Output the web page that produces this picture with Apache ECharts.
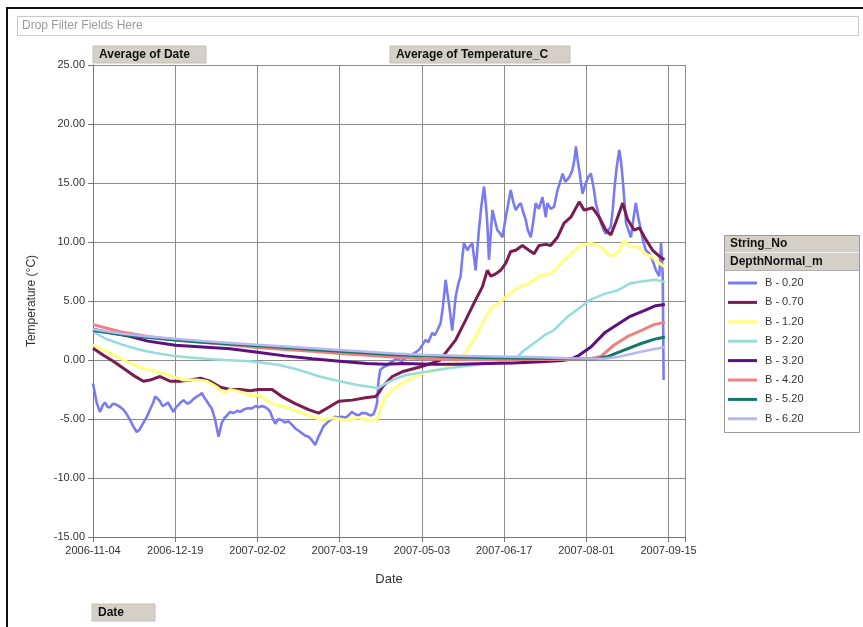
<!DOCTYPE html>
<html>
<head>
<meta charset="utf-8">
<script src="https://cdn.jsdelivr.net/npm/echarts@6/dist/echarts.min.js"></script>
<style>
html,body{margin:0;padding:0;background:#fff;}
#c{width:863px;height:627px;}
</style>
</head>
<body>
<div id="c"></div>
<script>
// ---- DATA (x = days since 2006-11-04) ----
const startDate = Date.UTC(2006, 10, 4);
const seriesNames = ['B - 0.20','B - 0.70','B - 1.20','B - 2.20','B - 3.20','B - 4.20','B - 5.20','B - 6.20'];
const yTicks = [-15, 25, 5];

const b020Days = [0,0.5,2,3.8,5.5,6.6,8,9.3,11,13,15,16.6,18.5,20.3,22,23.9,25.5,27.6,29.5,31.2,33,34,35.5,36.7,38,39.5,41,42.5,44,45.5,46.8,48,49.5,51.5,53.2,55,56.8,58,59.6,61,62.3,64,65,66.9,68.7,70.5,72,73.3,75,76.9,79,80.6,82.5,84.3,87,89,90.7,92.5,94.4,96,97,98.5,99.8,101.5,103.4,105,107,109,110.7,112.5,114.3,116,118,119.8,121.6,123.4,125,126.2,128.9,130.5,132.5,134.5,136.2,138,139.8,141.7,143.5,145.3,147,149,150.5,151.7,153.5,154.5,155.4,156.3,157.2,159,160.5,163,166,169,172,175,178.4,180,182,183.5,185.7,187,188.4,190.2,191.5,193,194,194.8,196.6,198.5,200,201.2,202,203,204.9,206,207.6,209.4,211.2,212.5,214,215,215.8,216.7,218.6,220,221.3,222.5,224.1,225.9,227,228.6,230,231.4,233,234.1,235.5,236.8,238,239.6,241,242.3,244,246,247.8,248.7,250.5,252.4,254.2,255.5,257,258.5,259.7,261,262.4,263.5,264.3,265.2,266.1,267.9,269.7,271,272.5,274,275.2,276.5,278,279.5,280.7,282,283.4,284.5,285.3,286.5,288,289,289.9,291,291.7,293,294.4,295.8,297.1,298.5,299.9,301.2,302.6,304,305.4,306.8,308.1,309.9,310.9,311.8,312.3];
const b020Vals = [-2.0,-2.1,-3.6,-4.4,-3.8,-3.6,-4.0,-4.0,-3.7,-3.8,-4.0,-4.2,-4.6,-5.1,-5.6,-6.1,-5.9,-5.3,-4.8,-4.2,-3.6,-3.1,-3.3,-3.5,-3.9,-3.8,-3.6,-4.0,-4.4,-4.0,-3.8,-3.6,-3.4,-3.7,-3.6,-3.3,-3.1,-3.0,-2.8,-3.2,-3.5,-3.9,-4.1,-5.1,-6.5,-5.3,-4.9,-4.7,-4.4,-4.5,-4.3,-4.4,-4.2,-4.1,-4.1,-3.9,-4.0,-3.9,-4.0,-4.2,-4.4,-5.0,-5.4,-5.0,-5.1,-5.3,-5.2,-5.5,-5.8,-6.0,-6.2,-6.4,-6.5,-6.8,-7.2,-6.5,-6.0,-5.6,-5.2,-5.0,-4.8,-4.9,-4.8,-4.9,-4.7,-4.4,-4.6,-4.7,-4.5,-4.5,-4.6,-4.7,-4.6,-4.2,-3.7,-1.7,-0.85,-0.6,-0.5,-0.2,0.1,-0.1,0.3,0.5,0.85,1.2,1.7,1.5,2.3,2.1,2.5,3.1,4.5,6.8,5.6,4.8,2.5,5.4,6.5,7.1,8.5,9.9,9.3,9.6,9.9,7.6,11.0,13.0,14.7,13.2,11.6,8.5,12.7,11.8,11.0,10.8,10.4,12.1,13.0,14.4,13.4,12.7,13.1,13.3,12.5,11.9,11.0,10.4,11.8,13.3,12.8,13.8,12.1,13.3,12.8,13.0,14.4,15.0,15.8,15.1,15.3,15.6,16.1,17.0,18.1,17.0,16.1,14.1,15.0,15.5,15.8,14.6,13.3,12.5,11.6,11.0,10.7,11.0,11.3,12.8,14.4,16.2,17.8,16.8,15.3,13.2,11.6,11.0,10.4,12.0,13.3,12.0,11.0,10.0,9.3,9.1,8.8,8.2,7.6,7.1,9.9,7.3,-1.7];

const b070Days = [0,5.7,11.1,16.6,22.1,27.6,31.2,36.7,42.2,47.7,53.2,58.7,64.1,69.6,75.1,80.6,86,90.6,98,103.4,110.7,118,123.5,129,134.5,141.8,149.1,154.6,156.4,158.3,163.8,169.2,179.3,184.8,190,193,198.5,204,209.4,213.1,215.8,217.7,220.4,223.1,225.9,228.6,231.4,235,238.6,241.4,244.1,247.8,250.5,254.2,257.8,261.5,266.1,268.8,273.4,277,280.7,283.4,286.2,289.9,292.6,296.2,299,302.6,306.3,309.9,312.7];
const b070Vals = [1.0,0.4,-0.1,-0.7,-1.3,-1.8,-1.7,-1.4,-1.8,-1.8,-1.7,-1.55,-1.8,-2.3,-2.5,-2.5,-2.6,-2.5,-2.5,-3.1,-3.7,-4.2,-4.5,-4.0,-3.5,-3.4,-3.2,-3.1,-2.8,-2.3,-1.4,-1.0,-0.57,-0.3,0.0,0.6,1.7,3.4,5.1,6.2,7.6,7.1,7.3,7.6,8.2,9.2,9.3,9.7,9.3,9.0,9.7,9.8,9.7,10.4,11.6,12.1,13.4,12.7,12.9,12.1,11.0,10.6,11.7,13.3,11.9,11.0,11.2,10.2,9.3,8.8,8.5];

const b120Days = [0,5.6,13,20.3,27.6,34.9,42.2,49.5,56.8,62.3,67.8,71.5,75.1,80.6,86.1,90.6,98,105.3,112.6,119.9,125.4,130.9,138.2,145.5,150.9,155.5,157.3,160.1,165.6,171,179,186,194,200,204,209.4,215,218.6,222.2,227.7,233.2,238.7,244.1,250.5,256,261.5,267,272.5,278,281.6,284.4,288,290.7,293.5,298.1,301.7,305.4,309,312.7];
const b120Vals = [1.3,0.85,0.3,-0.3,-0.7,-1.0,-1.3,-1.7,-1.7,-1.8,-2.3,-2.8,-2.5,-2.7,-3.0,-3.0,-3.7,-4.0,-4.4,-4.8,-5.1,-4.9,-5.1,-4.9,-5.1,-5.1,-4.0,-3.1,-2.3,-1.8,-1.2,-0.9,-0.6,-0.1,0.7,2.0,3.7,4.5,4.8,5.6,6.2,6.5,7.1,7.3,8.2,9.0,9.7,9.9,9.6,9.0,8.8,9.3,10.2,9.6,9.6,9.0,8.8,8.3,7.9];

const b220Days = [0,7,16,26,35,44,53,62,72,86,91,102,113,124,135,144,153,156,160,166,171,180,190,200,210,220,230,235,242,248,252,260,267,272,280,287,294,302,308,313];
const b220Vals = [2.4,1.8,1.3,0.85,0.57,0.35,0.22,0.1,0.0,-0.1,-0.2,-0.42,-0.85,-1.4,-1.8,-2.1,-2.3,-2.4,-2.0,-1.55,-1.3,-1.05,-0.8,-0.6,-0.4,-0.25,-0.05,0.7,1.5,2.2,2.5,3.7,4.5,5.1,5.6,5.9,6.5,6.7,6.8,6.6];

const b320Days = [0,10,20,30,45,60,75,90,105,120,135,150,160,170,185,200,215,230,245,257,262,266,272.5,280,287,294,302,308,313];
const b320Vals = [2.6,2.3,2.0,1.6,1.25,1.1,0.95,0.65,0.35,0.1,-0.1,-0.3,-0.35,-0.3,-0.35,-0.35,-0.3,-0.25,-0.15,-0.05,0.1,0.4,1.1,2.3,3.0,3.7,4.2,4.6,4.7];

const b420Days = [0,15,30,45,60,75,90,105,120,135,150,165,180,200,220,240,260,272,278,285,292.6,300,307,313];
const b420Vals = [3.0,2.4,2.0,1.7,1.5,1.3,1.05,0.9,0.75,0.55,0.4,0.25,0.1,0.05,0.05,0.05,0.05,0.1,0.3,1.25,2.0,2.5,3.0,3.2];

const b520Days = [0,15,30,45,60,75,90,105,120,135,150,165,180,200,220,240,260,275,282,291,300,307,313];
const b520Vals = [2.5,2.15,1.9,1.7,1.5,1.35,1.2,1.05,0.9,0.75,0.6,0.45,0.35,0.25,0.2,0.15,0.1,0.1,0.3,0.85,1.4,1.75,1.95];

const b620Days = [0,15,30,45,60,75,90,105,120,135,150,165,180,200,220,240,260,280,287,300,313];
const b620Vals = [2.6,2.25,2.0,1.8,1.6,1.45,1.3,1.15,1.0,0.85,0.7,0.55,0.45,0.35,0.3,0.25,0.15,0.1,0.25,0.7,1.1];

// ---- STYLE ----
const colors = ['#7b7bf0','#7a1c50','#ffff80','#96dcdc','#5e1080','#f08080','#137868','#b8b8f0'];
const widths = [2.6,3,3,2.5,3,3,3,2.5];
const allDays = [b020Days,b070Days,b120Days,b220Days,b320Days,b420Days,b520Days,b620Days];
const allVals = [b020Vals,b070Vals,b120Vals,b220Vals,b320Vals,b420Vals,b520Vals,b620Vals];

function pairs(ds, vs){ return ds.map((d,i)=>[d, vs[i]]); }
function fmtDate(v){
  if (Math.abs(v/45 - Math.round(v/45)) > 1e-6) return '';
  const dt = new Date(startDate + v*86400000);
  return dt.toISOString().slice(0,10);
}

const FONT = '"Liberation Sans", Arial, sans-serif';
const chart = echarts.init(document.getElementById('c'), null, {renderer:'canvas'});

const series = seriesNames.map((n,i)=>({
  name: n, type: 'line', showSymbol: false, symbol: 'none',
  data: pairs(allDays[i], allVals[i]),
  lineStyle: {color: colors[i], width: widths[i]},
  itemStyle: {color: colors[i]},
  z: 2 + i, animation: false
}));

function button(x, y, w, h, label){
  return [
    {type:'rect', shape:{x:x, y:y, width:w, height:h}, style:{fill:'#d4d0c8', stroke:'#c4c0b8', lineWidth:1}, z:10},
    {type:'text', x:x+6, y:y+h/2, style:{text:label, font:'bold 12px ' + FONT, fill:'#111', textVerticalAlign:'middle'}, z:11}
  ];
}

const graphics = [
  {type:'rect', shape:{x:7, y:8, width:880, height:660}, style:{fill:'none', stroke:'#111', lineWidth:2}, z:1},
  {type:'rect', shape:{x:17.5, y:16.5, width:841, height:19}, style:{fill:'#fff', stroke:'#c8c8c8', lineWidth:1}, z:1},
  {type:'text', x:22, y:26, style:{text:'Drop Filter Fields Here', font:'12px ' + FONT, fill:'#9a9a9a', textVerticalAlign:'middle'}, z:2},
  ...button(93, 46, 113, 17, 'Average of Date'),
  ...button(390, 46, 180, 17, 'Average of Temperature_C'),
  ...button(92, 604, 63, 17, 'Date'),
  {type:'rect', shape:{x:724.5, y:235.5, width:135, height:197}, style:{fill:'#fff', stroke:'#9a9a9a', lineWidth:1}, z:3},
  {type:'rect', shape:{x:725, y:236, width:134, height:16}, style:{fill:'#d4d0c8'}, z:4},
  {type:'rect', shape:{x:725, y:253, width:134, height:17}, style:{fill:'#d4d0c8'}, z:4},
  {type:'line', shape:{x1:725, y1:252.5, x2:859, y2:252.5}, style:{stroke:'#eeeeee', lineWidth:1}, z:4},
  {type:'line', shape:{x1:725, y1:270.5, x2:859, y2:270.5}, style:{stroke:'#b0b0b0', lineWidth:1}, z:4},
  {type:'text', x:730, y:244, style:{text:'String_No', font:'bold 12px ' + FONT, fill:'#111', textVerticalAlign:'middle'}, z:5},
  {type:'text', x:730, y:262, style:{text:'DepthNormal_m', font:'bold 12px ' + FONT, fill:'#111', textVerticalAlign:'middle'}, z:5}
];

chart.setOption({
  backgroundColor: '#fff',
  animation: false,
  textStyle: {fontFamily: FONT},
  grid: {left: 93, right: 178, top: 65, bottom: 90, show: false},
  legend: {
    data: seriesNames, orient: 'vertical', left: 728, top: 276, padding: 0,
    icon: 'rect', itemWidth: 29, itemHeight: 3, itemGap: 5.4,
    textStyle: {fontSize: 11, color: '#333', lineHeight: 14, padding: [0,0,0,3], fontFamily: FONT},
    z: 6, selectedMode: false
  },
  xAxis: {
    type: 'value', min: 0, max: 324, interval: 45,
    name: 'Date', nameLocation: 'middle', nameGap: 36,
    nameTextStyle: {fontSize: 13, color: '#333', fontFamily: FONT},
    axisLine: {show: true, onZero: false, lineStyle: {color: '#777', width: 1}},
    axisTick: {show: true, length: 5, lineStyle: {color: '#777'}},
    axisLabel: {formatter: fmtDate, fontSize: 11, color: '#333', margin: 8, fontFamily: FONT, showMaxLabel: true},
    splitLine: {show: true, lineStyle: {color: '#8c8c8c', width: 1}}
  },
  yAxis: {
    type: 'value', min: yTicks[0], max: yTicks[1], interval: yTicks[2],
    name: 'Temperature (°C)', nameLocation: 'middle', nameGap: 55,
    nameTextStyle: {fontSize: 12, color: '#333', fontFamily: FONT},
    axisLine: {show: true, lineStyle: {color: '#777', width: 1}},
    axisTick: {show: true, length: 5, lineStyle: {color: '#777'}},
    axisLabel: {formatter: v => v.toFixed(2), fontSize: 11, color: '#333', margin: 8, fontFamily: FONT},
    splitLine: {show: true, lineStyle: {color: '#8c8c8c', width: 1}}
  },
  graphic: graphics,
  series: series
});
</script>
</body>
</html>
